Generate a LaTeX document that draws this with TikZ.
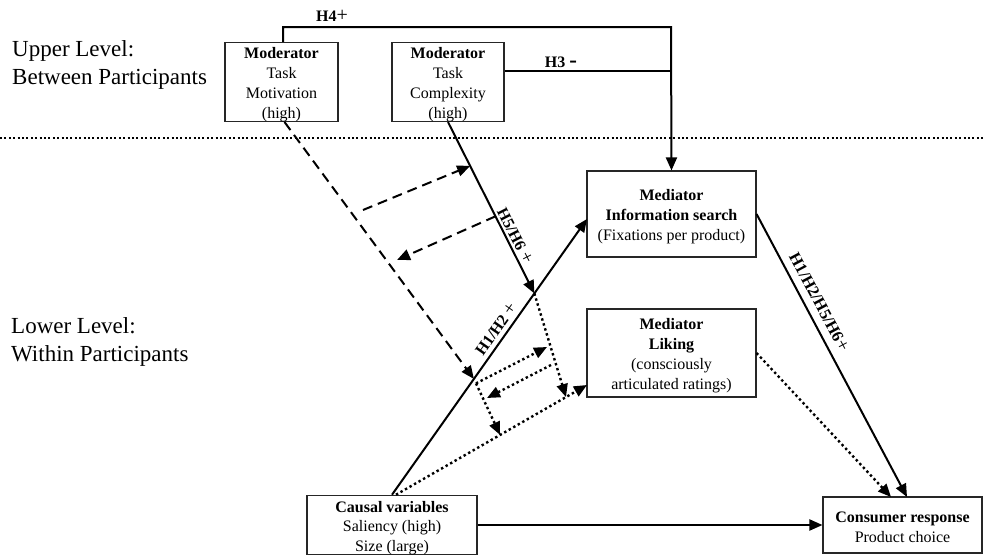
\documentclass[tikz,border=0pt]{standalone}
\usepackage{fontspec}
\setmainfont{Liberation Serif}
\usetikzlibrary{arrows.meta,calc}
\newcommand{\tstrut}{\rule{0pt}{15.5pt}}
\begin{document}
\begin{tikzpicture}[x=1pt,y=-1pt,
  box/.style={draw=black!85, line width=1.1pt, inner sep=0pt, align=center},
  boxfont/.style={font=\fontsize{16}{20}\selectfont},
  sol/.style={line width=2pt},
  arr/.style={-{Triangle[length=13pt,width=11pt]}},
  dsh/.style={line width=2pt, dash pattern=on 10pt off 6pt},
  dts/.style={line width=2.4pt, dash pattern=on 2.4pt off 2.8pt},
  sepdot/.style={line width=2pt, dash pattern=on 2pt off 2.4pt},
  lab/.style={font=\fontsize{16}{16}\selectfont\bfseries, inner sep=0pt},
  lvl/.style={font=\fontsize{23}{28}\selectfont, align=left, anchor=west, inner sep=0pt}]
\path[use as bounding box] (0,0) rectangle (984,554);

% level labels
\node[lvl] (upper) at (12,65) {Upper Level:\\Between Participants};
\node[lvl] (lower) at (11,342) {Lower Level:\\Within Participants};

% separator
\coordinate (sepL) at (0,138);
\coordinate (sepR) at (984,138);
\draw[sepdot] (sepL) -- (sepR);

% boxes
\node[box, boxfont, minimum width=113pt, minimum height=78pt] (mot) at (281.5,82)
  {\tstrut\textbf{Moderator}\\Task\\Motivation\\(high)};
\node[box, boxfont, minimum width=112pt, minimum height=78pt] (cpx) at (448,82)
  {\tstrut\textbf{Moderator}\\Task\\Complexity\\(high)};
\node[box, boxfont, minimum width=169pt, minimum height=86pt] (info) at (671.5,214)
  {\tstrut\textbf{Mediator}\\\textbf{Information search}\\(Fixations per product)};
\node[box, boxfont, minimum width=169pt, minimum height=88pt] (liking) at (671.5,353)
  {\tstrut\textbf{Mediator}\\\textbf{Liking}\\(consciously\\articulated ratings)};
\node[box, font=\fontsize{16}{19.5}\selectfont, minimum width=170pt, minimum height=56pt] (causal) at (392,525)
  {\rule{0pt}{17pt}\textbf{Causal variables}\\Saliency (high)\\Size (large)};
\node[box, boxfont, minimum width=159pt, minimum height=56pt] (cons) at (902.5,525)
  {\tstrut\textbf{Consumer response}\\Product choice};

% upper level connectors
\coordinate (h4c) at (671,27);
\coordinate (h3j) at (671,71);
\draw[sol,arr] ($(mot.north)+(1.5,0)$) |- (h4c) -- (info.north);
\draw[sol] (cpx.east |- h3j) -- (h3j);
\node[lab] (h4l) at (332,16) {H4\textnormal{\fontsize{20}{20}\selectfont+}};
\node[lab] (h3l) at (561,62) {H3 {\fontsize{23}{23}\selectfont -}};

% main path causal -> info search
\coordinate (infoin) at (587,219);
\draw[sol,arr] (causal.north) -- (infoin);
\coordinate (m1) at ($(causal.north)!0.73!(infoin)$);
\coordinate (m2) at ($(causal.north)!0.42!(infoin)$);
\node[lab, rotate=55] (h12) at (496,329) {H1/H2 \textnormal{\fontsize{19}{19}\selectfont+}};

% moderators on the main path
\draw[sol,arr] (cpx.south) -- (m1);
\node[lab, rotate=-63] (h56) at (515,236) {H5/H6 \textnormal{\fontsize{19}{19}\selectfont+}};
\coordinate (mots) at ($(mot.south)+(3,0)$);
\draw[dsh,arr] (mots) -- (m2);

% dashed interaction arrows
\coordinate (d1s) at (363,210);
\coordinate (d1e) at ($(cpx.south)!0.256!(m1)$);
\draw[dsh,arr] (d1s) -- (d1e);
\coordinate (d2s) at ($(cpx.south)!0.55!(m1)$);
\coordinate (d2e) at (397,260);
\draw[dsh,arr] (d2s) -- (d2e);

% causal -> liking (dotted)
\coordinate (cl0) at ($(causal.north)+(4,0)$);
\coordinate (likin) at (587,385);
\draw[dts,arr] (cl0) -- (likin);
\coordinate (n1) at ($(cl0)!0.545!(likin)$);
\coordinate (n2) at ($(cl0)!0.89!(likin)$);
\coordinate (m2b) at ($(m2)!0.08!(n1)$);
\draw[dts,arr] (m2b) -- (n1);
\draw[dts,arr] (m1) -- (n2);

% dotted interaction arrows
\coordinate (a1e) at (547,347);
\draw[dts,arr] (m2b) -- (a1e);
\coordinate (b1s) at (551,365);
\coordinate (b1e) at (487,398);
\draw[dts,arr] (b1s) -- (b1e);

% to consumer response
\coordinate (consin1) at (907,497);
\coordinate (consin2) at (891,497);
\draw[sol,arr] (info.east) -- (consin1);
\node[lab, font=\fontsize{16.5}{16.5}\selectfont\bfseries, rotate=-62] (h1256) at (819,302) {H1/H2/H5/H6\textnormal{\fontsize{19}{19}\selectfont+}};
\draw[dts,arr] (liking.east) -- (consin2);
\draw[sol,arr] (causal.east) -- (cons.west);
\end{tikzpicture}
\end{document}
